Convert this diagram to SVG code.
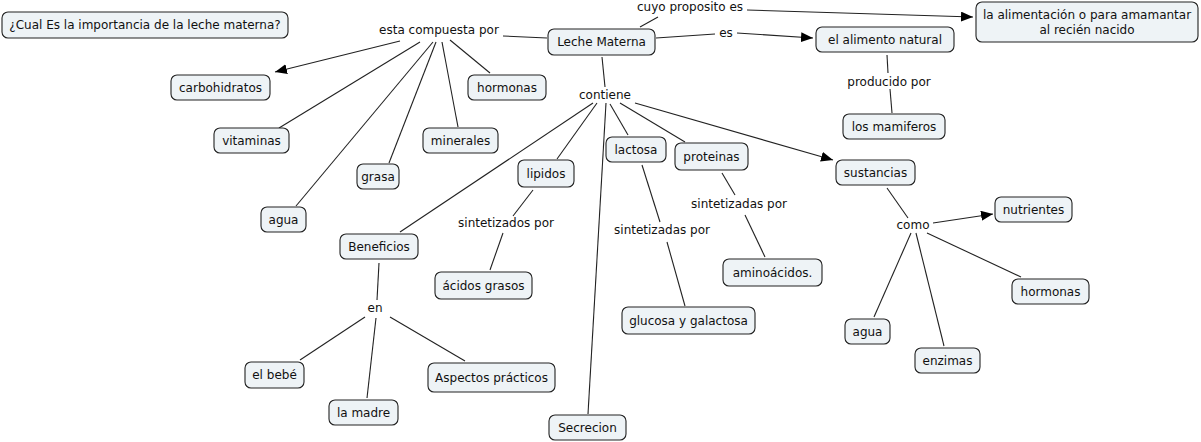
<svg xmlns="http://www.w3.org/2000/svg" width="1201" height="442" viewBox="0 0 1201 442">
<style>
.n rect{fill:#EEF3F6;stroke:#222;stroke-width:1.1}
text{font-family:"DejaVu Sans",Verdana,sans-serif;font-size:12px;fill:#111;text-anchor:middle}
#links line{stroke:#222;stroke-width:1.1}
</style>
<defs>
<marker id="ah" viewBox="0 0 12 10" refX="12" refY="5" markerWidth="12" markerHeight="10" markerUnits="userSpaceOnUse" orient="auto">
<path d="M0,0 L12,5 L0,10 z" fill="#000"/>
</marker>
</defs>
<rect width="1201" height="442" fill="#fff"/>
<g id="links">
<line x1="547" y1="38" x2="503" y2="36"/>
<line x1="400" y1="41" x2="275" y2="72" marker-end="url(#ah)"/>
<line x1="420" y1="42" x2="279" y2="128"/>
<line x1="433" y1="42" x2="296" y2="206"/>
<line x1="436" y1="42" x2="389" y2="163"/>
<line x1="442" y1="42" x2="458" y2="127"/>
<line x1="450" y1="40" x2="490" y2="73"/>
<line x1="640" y1="27" x2="658" y2="17"/>
<line x1="747" y1="10" x2="973" y2="17" marker-end="url(#ah)"/>
<line x1="656" y1="38" x2="715" y2="34"/>
<line x1="737" y1="33" x2="813" y2="38" marker-end="url(#ah)"/>
<line x1="887" y1="55" x2="888" y2="73"/>
<line x1="890" y1="89" x2="892" y2="113"/>
<line x1="602" y1="57" x2="605" y2="87"/>
<line x1="593" y1="103" x2="400" y2="232"/>
<line x1="597" y1="103" x2="557" y2="159"/>
<line x1="606" y1="103" x2="588" y2="414"/>
<line x1="610" y1="104" x2="628" y2="135"/>
<line x1="620" y1="103" x2="685" y2="142"/>
<line x1="635" y1="103" x2="833" y2="160" marker-end="url(#ah)"/>
<line x1="533" y1="190" x2="513" y2="216"/>
<line x1="503" y1="233" x2="490" y2="270"/>
<line x1="642" y1="165" x2="660" y2="222"/>
<line x1="667" y1="242" x2="685" y2="306"/>
<line x1="722" y1="173" x2="735" y2="195"/>
<line x1="745" y1="215" x2="765" y2="257"/>
<line x1="887" y1="188" x2="908" y2="218"/>
<line x1="933" y1="223" x2="993" y2="214" marker-end="url(#ah)"/>
<line x1="927" y1="233" x2="1021" y2="277"/>
<line x1="911" y1="233" x2="874" y2="317"/>
<line x1="916" y1="233" x2="944" y2="346"/>
<line x1="379" y1="263" x2="377" y2="300"/>
<line x1="365" y1="317" x2="300" y2="360"/>
<line x1="376" y1="318" x2="367" y2="398"/>
<line x1="390" y1="317" x2="465" y2="361"/>
</g>
<g id="labels">
<text x="439" y="34">esta compuesta por</text>
<text x="690" y="11">cuyo proposito es</text>
<text x="726" y="37">es</text>
<text x="889" y="86">producido por</text>
<text x="605" y="99">contiene</text>
<text x="506" y="227">sintetizados por</text>
<text x="662" y="234">sintetizadas por</text>
<text x="739" y="208">sintetizadas por</text>
<text x="913" y="229">como</text>
<text x="375" y="312">en</text>
</g>
<g id="n1" class="n"><rect x="2" y="12" width="286" height="26" rx="6"/><text x="145" y="29">¿Cual Es la importancia de la leche materna?</text></g>
<g id="n2" class="n"><rect x="548" y="29" width="107" height="26" rx="6"/><text x="601.5" y="46">Leche Materna</text></g>
<g id="n3" class="n"><rect x="976" y="2" width="222" height="40" rx="6"/><text x="1087" y="19">la alimentación o para amamantar</text><text x="1087" y="34">al recién nacido</text></g>
<g id="n4" class="n"><rect x="816" y="27" width="138" height="25" rx="6"/><text x="885" y="44">el alimento natural</text></g>
<g id="n5" class="n"><rect x="843" y="114" width="102" height="25" rx="6"/><text x="894" y="131">los mamiferos</text></g>
<g id="n6" class="n"><rect x="171" y="75" width="99" height="25" rx="6"/><text x="220.5" y="92">carbohidratos</text></g>
<g id="n7" class="n"><rect x="468" y="75" width="78" height="25" rx="6"/><text x="507" y="92">hormonas</text></g>
<g id="n8" class="n"><rect x="214" y="128" width="75" height="25" rx="6"/><text x="251.5" y="145">vitaminas</text></g>
<g id="n9" class="n"><rect x="423" y="128" width="75" height="25" rx="6"/><text x="460.5" y="145">minerales</text></g>
<g id="n10" class="n"><rect x="357" y="164" width="42" height="25" rx="6"/><text x="378" y="181">grasa</text></g>
<g id="n11" class="n"><rect x="261" y="207" width="45" height="25" rx="6"/><text x="283.5" y="224">agua</text></g>
<g id="n12" class="n"><rect x="518" y="160" width="56" height="27" rx="6"/><text x="546" y="178">lipidos</text></g>
<g id="n13" class="n"><rect x="606" y="137" width="60" height="25" rx="6"/><text x="636" y="154">lactosa</text></g>
<g id="n14" class="n"><rect x="675" y="143" width="73" height="27" rx="6"/><text x="711.5" y="161">proteinas</text></g>
<g id="n15" class="n"><rect x="836" y="160" width="79" height="25" rx="6"/><text x="875.5" y="177">sustancias</text></g>
<g id="n16" class="n"><rect x="995" y="197" width="77" height="25" rx="6"/><text x="1033.5" y="214">nutrientes</text></g>
<g id="n17" class="n"><rect x="340" y="234" width="78" height="25" rx="6"/><text x="379" y="251">Beneficios</text></g>
<g id="n18" class="n"><rect x="435" y="272" width="97" height="27" rx="6"/><text x="483.5" y="290">ácidos grasos</text></g>
<g id="n19" class="n"><rect x="723" y="259" width="99" height="27" rx="6"/><text x="772.5" y="277">aminoácidos.</text></g>
<g id="n20" class="n"><rect x="1012" y="279" width="77" height="25" rx="6"/><text x="1050.5" y="296">hormonas</text></g>
<g id="n21" class="n"><rect x="622" y="307" width="133" height="27" rx="6"/><text x="688.5" y="325">glucosa y galactosa</text></g>
<g id="n22" class="n"><rect x="845" y="319" width="45" height="25" rx="6"/><text x="867.5" y="336">agua</text></g>
<g id="n23" class="n"><rect x="915" y="348" width="65" height="25" rx="6"/><text x="947.5" y="365">enzimas</text></g>
<g id="n24" class="n"><rect x="245" y="362" width="59" height="26" rx="6"/><text x="274.5" y="379">el bebé</text></g>
<g id="n25" class="n"><rect x="329" y="400" width="69" height="25" rx="6"/><text x="363.5" y="417">la madre</text></g>
<g id="n26" class="n"><rect x="428" y="363" width="127" height="29" rx="6"/><text x="491.5" y="382">Aspectos prácticos</text></g>
<g id="n27" class="n"><rect x="549" y="415" width="77" height="25" rx="6"/><text x="587.5" y="432">Secrecion</text></g>
</svg>
